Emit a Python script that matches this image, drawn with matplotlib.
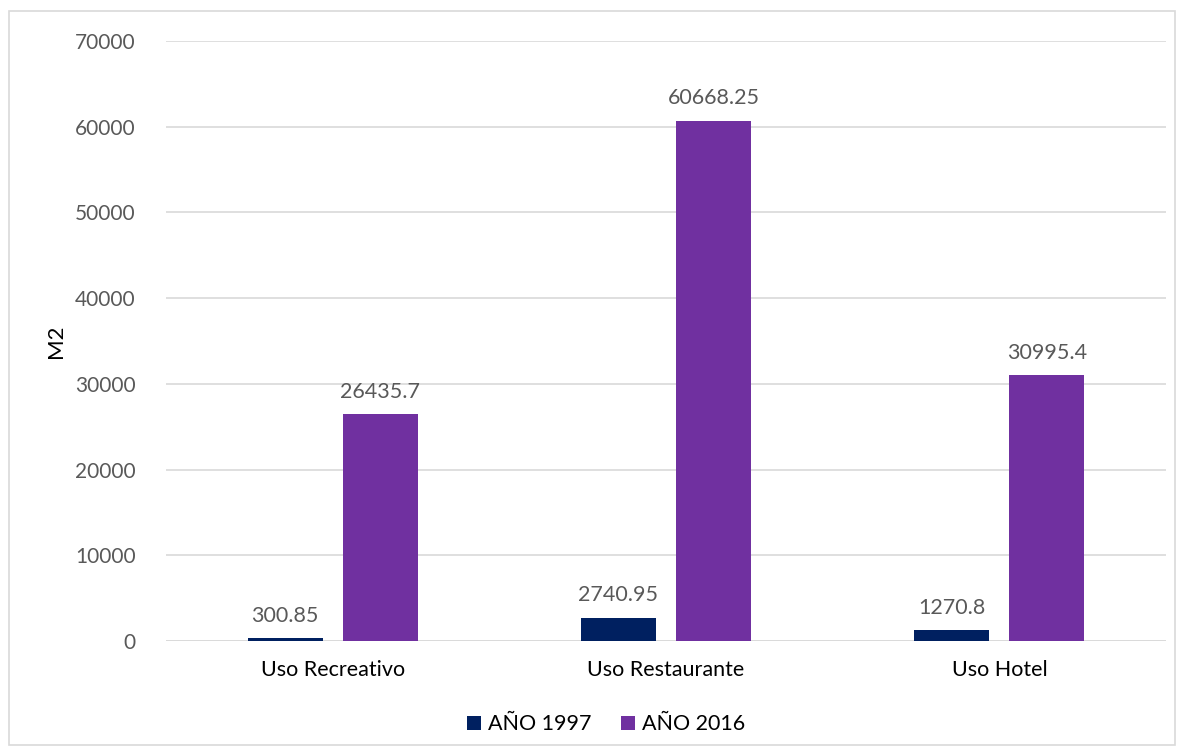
import matplotlib.pyplot as plt
import numpy as np
from matplotlib.patches import Rectangle

plt.rcParams['font.family'] = ['Lato', 'DejaVu Sans']

categories = ['Uso Recreativo', 'Uso Restaurante', 'Uso Hotel']
series_names = ['AÑO 1997', 'AÑO 2016']
values_1997 = [300.85, 2740.95, 1270.8]
values_2016 = [26435.7, 60668.25, 30995.4]
label_1997 = ['300.85', '2740.95', '1270.8']
label_2016 = ['26435.7', '60668.25', '30995.4']

navy = '#002060'
purple = '#7030A0'
text_color = '#595959'

fig = plt.figure(figsize=(11.84, 7.56), dpi=100)
ax = fig.add_axes([0.1402, 0.1521, 0.8446, 0.7937])

x = np.arange(len(categories))
w = 0.225
off = 0.1426
b1 = ax.bar(x - off, values_1997, w, color=navy, label=series_names[0], zorder=3)
b2 = ax.bar(x + off, values_2016, w, color=purple, label=series_names[1], zorder=3)

for bars, labels in ((b1, label_1997), (b2, label_2016)):
    for rect, lab in zip(bars, labels):
        ax.annotate(lab, (rect.get_x() + rect.get_width() / 2, rect.get_height()),
                    xytext=(0, 9), textcoords='offset points', ha='center', va='bottom',
                    fontsize=15.5, color=text_color)

ax.set_xlim(-0.5, 2.5)
ax.set_ylim(0, 70000)
ax.set_yticks(range(0, 70001, 10000))
ax.set_xticks(x)
ax.set_xticklabels(categories, fontsize=15.5, color='#000000')
ax.tick_params(axis='y', labelsize=15, labelcolor=text_color, length=0, pad=22)
ax.tick_params(axis='x', length=0, pad=14)
ax.grid(axis='y', color='#d9d9d9', linewidth=1.2, zorder=0)
for s in ax.spines.values():
    s.set_visible(False)
ax.axhline(0, color='#d9d9d9', linewidth=1.2, zorder=2)

ax.set_ylabel('M2', fontsize=16, color='#000000')
ax.yaxis.set_label_coords(-0.1, 0.5)

fig.legend(handles=[b1, b2], loc='center', bbox_to_anchor=(0.512, 0.042), ncol=2,
           frameon=False, fontsize=15.5, handlelength=0.65, handleheight=0.65,
           handletextpad=0.3, columnspacing=1.4)

fig.patches.append(Rectangle((9 / 1184, 11 / 756), 1166 / 1184, 734 / 756,
                             transform=fig.transFigure, fill=False,
                             edgecolor='#d9d9d9', linewidth=1.2))

fig.savefig('out.png', dpi=100)
